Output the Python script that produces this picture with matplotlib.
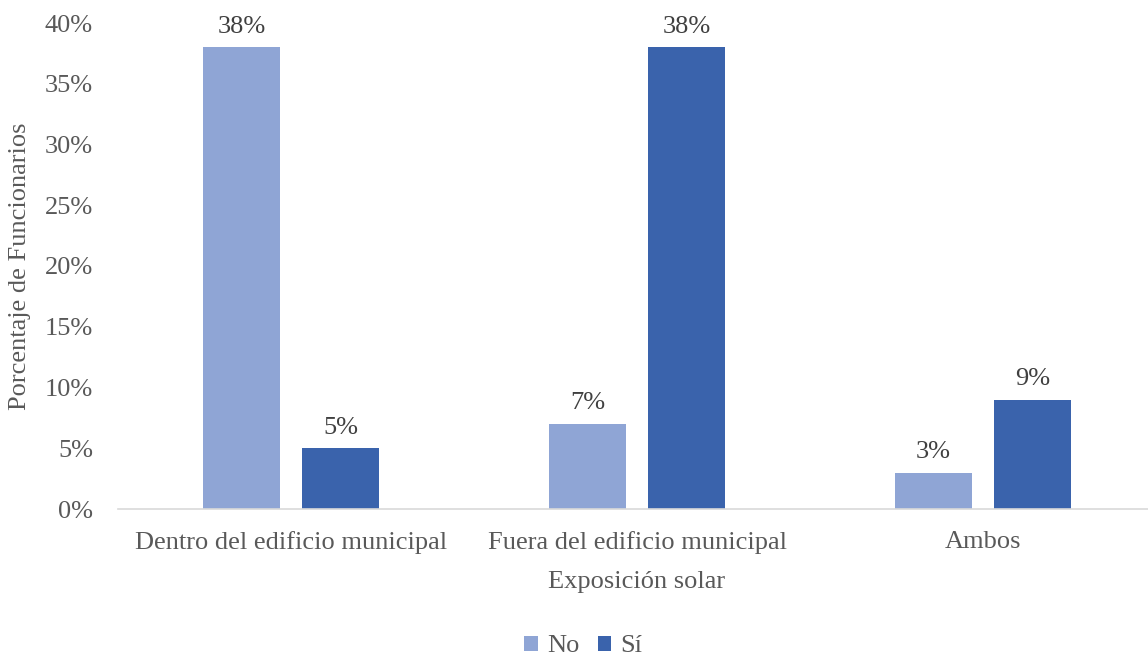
import matplotlib
matplotlib.use("Agg")
import matplotlib.pyplot as plt
import numpy as np

# datos
categorias = ["Dentro del edificio municipal", "Fuera del edificio municipal", "Ambos"]
no_vals = [0.38, 0.07, 0.03]
si_vals = [0.05, 0.38, 0.09]
no_labels = ["38%", "7%", "3%"]
si_labels = ["5%", "38%", "9%"]
yticks = [0, 0.05, 0.10, 0.15, 0.20, 0.25, 0.30, 0.35, 0.40]

plt.rcParams['font.family'] = ['Liberation Serif', 'DejaVu Serif']
fs = 19
gris = '#595959'

fig = plt.figure(figsize=(11.48, 6.61), dpi=100)
W, H = 1148.0, 661.0
ax = fig.add_axes([118 / W, (H - 509) / H, 1038 / W, 486 / H])

x = np.arange(len(categorias))
bw = 77 / 346.0
off = 49.5 / 346.0
b1 = ax.bar(x - off, no_vals, bw, color='#8FA5D5', label='No')
b2 = ax.bar(x + off, si_vals, bw, color='#3A63AC', label='Sí')

for rect, lab in zip(b1, no_labels):
    ax.annotate(lab, (rect.get_x() + rect.get_width() / 2, rect.get_height()),
                xytext=(0, 7), textcoords='offset points', ha='center', va='bottom',
                fontsize=fs, color='#404040')
for rect, lab in zip(b2, si_labels):
    ax.annotate(lab, (rect.get_x() + rect.get_width() / 2, rect.get_height()),
                xytext=(0, 7), textcoords='offset points', ha='center', va='bottom',
                fontsize=fs, color='#404040')

ax.set_xlim(-0.5, 2.5)
ax.set_ylim(0, 0.40)
ax.set_yticks(yticks)
ax.set_yticklabels(["%d%%" % round(v * 100) for v in yticks], fontsize=fs, color=gris)
ax.set_xticks(x)
ax.set_xticklabels(categorias, fontsize=fs, color=gris)
ax.tick_params(axis='both', length=0)
ax.tick_params(axis='y', pad=18)
ax.tick_params(axis='x', pad=16)

for s in ['top', 'right', 'left']:
    ax.spines[s].set_visible(False)
ax.spines['bottom'].set_color('#D9D9D9')
ax.spines['bottom'].set_linewidth(1.2)

ax.set_xlabel("Exposición solar", fontsize=fs, color=gris, labelpad=12)
ax.set_ylabel("Porcentaje de Funcionarios", fontsize=fs, color=gris, labelpad=10)

leg = fig.legend(loc='center', bbox_to_anchor=(0.508, 0.022), ncol=2, frameon=False,
                 fontsize=fs, handlelength=0.5, handleheight=0.5, handletextpad=0.35,
                 columnspacing=0.7, borderpad=0.1)
for t in leg.get_texts():
    t.set_color(gris)

fig.savefig("out.png", dpi=100)
